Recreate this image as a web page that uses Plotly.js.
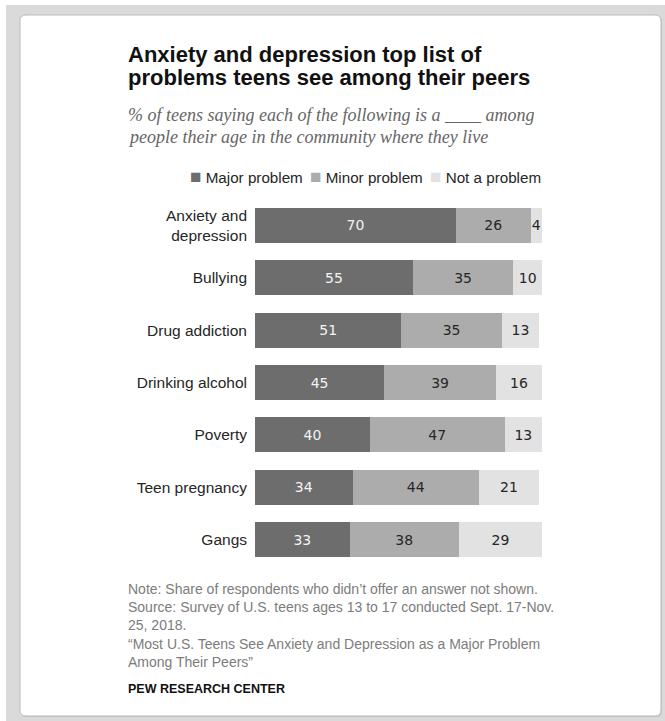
<!DOCTYPE html>
<html>
<head>
<meta charset="utf-8">
<script src="https://cdn.plot.ly/plotly-3.0.1.min.js"></script>
<style>html,body{margin:0;padding:0;background:#fff;}#chart{width:665px;height:721px;}</style>
</head>
<body>
<div id="chart"></div>
<script>
// ---- data ----
const categories = ["Anxiety and<br>depression", "Bullying", "Drug addiction", "Drinking alcohol", "Poverty", "Teen pregnancy", "Gangs"];
const seriesNames = ["Major problem", "Minor problem", "Not a problem"];
const majorProblem = [70, 55, 51, 45, 40, 34, 33];
const minorProblem = [26, 35, 35, 39, 47, 44, 38];
const notAProblem  = [4, 10, 13, 16, 13, 21, 29];
const titleLines = ["Anxiety and depression top list of", "problems teens see among their peers"];
const subtitleLines = ["% of teens saying each of the following is a ____ among", "people their age in the community where they live"];
const noteText = "Note: Share of respondents who didn’t offer an answer not shown.<br>Source: Survey of U.S. teens ages 13 to 17 conducted Sept. 17-Nov.<br>25, 2018.<br>“Most U.S. Teens See Anxiety and Depression as a Major Problem<br>Among Their Peers”";
const sourceText = "PEW RESEARCH CENTER";

// ---- layout helpers ----
const W = 665, H = 721;
const M = {l: 255, r: 123, t: 199, b: 155};
const PW = W - M.l - M.r, PH = H - M.t - M.b;
const px = x => (x - M.l) / PW;
const py = y => (H - M.b - y) / PH;
const colors = ["#6d6d6d", "#acacac", "#e2e2e2"];
const textColors = ["#f4f4f4", "#262626", "#262626"];
const sansFont = "'Liberation Sans', Arial, sans-serif";
const serifFont = "'Liberation Serif', 'DejaVu Serif', serif";
const LEFT = 125.5; // annotation x (annotations add ~2.5px padding)

const values = [majorProblem, minorProblem, notAProblem];
const traces = values.map((v, i) => ({
  type: "bar",
  orientation: "h",
  name: seriesNames[i],
  y: categories,
  x: v,
  text: v.map(String),
  textposition: "inside",
  insidetextanchor: "middle",
  textfont: {family: "'DejaVu Sans', sans-serif", size: 14, color: textColors[i]},
  marker: {color: colors[i], line: {width: 0}},
  hoverinfo: "skip",
  showlegend: false
}));

// rounded card path in paper coords
function roundRect(x0, y0, x1, y1, r) {
  const P = (x, y) => px(x) + "," + py(y);
  return "M" + P(x0 + r, y0) + " L" + P(x1 - r, y0) + " Q" + P(x1, y0) + " " + P(x1, y0 + r) +
    " L" + P(x1, y1 - r) + " Q" + P(x1, y1) + " " + P(x1 - r, y1) +
    " L" + P(x0 + r, y1) + " Q" + P(x0, y1) + " " + P(x0, y1 - r) +
    " L" + P(x0, y0 + r) + " Q" + P(x0, y0) + " " + P(x0 + r, y0) + " Z";
}

const shapes = [
  {type: "rect", xref: "paper", yref: "paper", x0: px(6), x1: px(665), y0: py(5), y1: py(721),
   fillcolor: "#dadada", line: {width: 0}, layer: "below"},
  {type: "path", xref: "paper", yref: "paper", path: roundRect(21, 16, 662, 717, 6),
   fillcolor: "#c4c4c4", line: {width: 0}, layer: "below"},
  {type: "path", xref: "paper", yref: "paper", path: roundRect(20, 15, 661, 716, 6),
   fillcolor: "#ffffff", line: {color: "#bcbcbc", width: 1}, layer: "below"}
];

const legendX = [188, 308, 428];
const annotations = [
  {text: titleLines[1], xref: "paper", yref: "paper", x: px(LEFT), y: py(77.5), xanchor: "left", yanchor: "middle",
   showarrow: false, font: {family: sansFont, size: 22, color: "#111111", weight: 700}},
  {text: subtitleLines[0], xref: "paper", yref: "paper", x: px(LEFT), y: py(115), xanchor: "left", yanchor: "middle",
   showarrow: false, font: {family: serifFont, size: 18, color: "#666666", style: "italic"}},
  {text: subtitleLines[1], xref: "paper", yref: "paper", x: px(LEFT), y: py(137), xanchor: "left", yanchor: "middle",
   showarrow: false, font: {family: serifFont, size: 18, color: "#666666", style: "italic"}},
  {text: noteText, xref: "paper", yref: "paper", x: px(LEFT), y: py(625), xanchor: "left", yanchor: "middle",
   align: "left", showarrow: false, font: {family: sansFont, size: 14, color: "#7c7c7c"}},
  {text: sourceText, xref: "paper", yref: "paper", x: px(LEFT), y: py(688.5), xanchor: "left", yanchor: "middle",
   showarrow: false, font: {family: sansFont, size: 12.5, color: "#111111", weight: 700}}
].concat(seriesNames.map((n, i) => ({
  text: "<span style='color:" + colors[i] + ";font-size:19px'>■</span> " + n,
  xref: "paper", yref: "paper", x: px(legendX[i]), y: py(176), xanchor: "left", yanchor: "middle",
  showarrow: false, font: {family: sansFont, size: 15.2, color: "#262626"}
})));

const layout = {
  width: W, height: H,
  margin: M,
  paper_bgcolor: "#ffffff",
  plot_bgcolor: "rgba(0,0,0,0)",
  barmode: "stack",
  bargap: 0.333,
  showlegend: false,
  uniformtext: {mode: "show", minsize: 14},
  title: {text: titleLines[0], x: 128 / W, xanchor: "left", xref: "container", yref: "container",
    y: 1 - 54.5 / H, yanchor: "middle", font: {family: sansFont, size: 22, color: "#111111", weight: 700}},
  xaxis: {range: [0, 100], visible: false, fixedrange: true},
  yaxis: {type: "category", autorange: "reversed", showgrid: false, zeroline: false, showline: false,
    ticks: "", ticklabelstandoff: 7, tickfont: {family: sansFont, size: 15.5, color: "#262626"}, fixedrange: true},
  shapes: shapes,
  annotations: annotations
};

Plotly.newPlot("chart", traces, layout, {displayModeBar: false, staticPlot: true});
</script>
</body>
</html>
